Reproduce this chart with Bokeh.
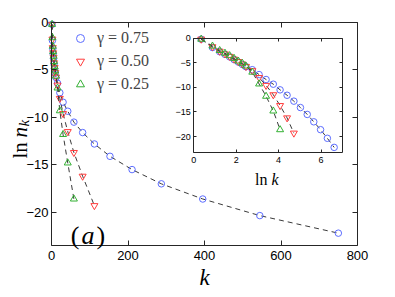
import numpy as np
from bokeh.plotting import figure
from bokeh.models import (Range1d, LinearAxis, FixedTicker, Label, Legend,
                          LegendItem)
from bokeh.embed import file_html
from bokeh.resources import INLINE

# ---------------- data ----------------
lnk_bins = [0.35, 0.88, 1.22, 1.47, 1.69, 1.90, 2.10, 2.29, 2.46, 2.76, 3.08,
            3.41, 3.75, 4.07, 4.40, 4.72, 5.03, 5.35, 5.66, 5.98, 6.30, 6.62]
lnn_075 = [-0.2, -1.9, -2.75, -3.3, -3.8, -4.35, -4.85, -5.35, -5.8, -6.4, -7.4,
           -8.4, -9.35, -10.5, -11.6, -12.8, -14.1, -15.5, -17.0, -18.6, -20.35, -22.2]
lnn_050 = [-0.2, -1.75, -2.65, -3.2, -3.7, -4.25, -4.75, -5.25, -5.75, -6.6, -8.0,
           -9.6, -11.5, -13.7, -16.2, -19.3]
lnn_025 = [-0.2, -1.6, -2.5, -3.05, -3.55, -4.1, -4.65, -5.1, -5.65, -6.9, -9.3,
           -11.8, -14.8, -18.6]
series_labels = ["γ = 0.75", "γ = 0.50", "γ = 0.25"]
series_values = [lnn_075, lnn_050, lnn_025]
colors = ["#5c6dff", "#ff3c3c", "#33b033"]
markers = ["circle", "inverted_triangle", "triangle"]

x_ticks = [0, 200, 400, 600, 800]
y_ticks = [-20, -15, -10, -5, 0]
inset_x_ticks = [0, 2, 4, 6]
inset_y_ticks = [-20, -15, -10, -5, 0]
XLIM = (0, 800)
YLIM = (-23.5, 0)
INSET_XLIM = (0, 7)
INSET_YLIM = (-23.3, 0)

# ---------------- layout (pixels) ----------------
W, H = 394, 296
ML, MR, MT, MB = 51, 357, 22, 245            # main axes box
IL, IR, IT, IB = 193.3, 341.7, 37.7, 152.3   # inset axes box

sxm = (XLIM[1] - XLIM[0]) / (MR - ML)
sym = (YLIM[1] - YLIM[0]) / (MB - MT)
sxi = (INSET_XLIM[1] - INSET_XLIM[0]) / (IR - IL)
syi = (INSET_YLIM[1] - INSET_YLIM[0]) / (IB - IT)

x_range = Range1d(XLIM[0] - ML * sxm, XLIM[1] + (W - MR) * sxm)
y_range = Range1d(YLIM[0] - (H - MB) * sym, YLIM[1] + MT * sym)
ix_range = Range1d(INSET_XLIM[0] - IL * sxi, INSET_XLIM[1] + (W - IR) * sxi)
iy_range = Range1d(INSET_YLIM[0] - (H - IB) * syi, INSET_YLIM[1] + IT * syi)


def mx(px):
    return XLIM[0] + (px - ML) * sxm


def my(py):
    return YLIM[1] - (py - MT) * sym


AX = "#262626"
MINUS = "\u2212"


def overrides(ticks):
    return {t: (MINUS + str(abs(t)) if t < 0 else str(t)) for t in ticks}


p = figure(width=W, height=H, x_range=x_range, y_range=y_range,
           x_axis_location=None, y_axis_location=None,
           output_backend="svg", toolbar_location=None, min_border=0)
p.extra_x_ranges = {"ix": ix_range}
p.extra_y_ranges = {"iy": iy_range}
p.grid.visible = False
p.outline_line_color = None
p.background_fill_color = "white"
p.border_fill_color = "white"


def make_axis(side, loc, bounds, ticks, size, labels=True, tick_len=5,
              standoff=4, inset=False):
    kw = dict(x_range_name="ix", y_range_name="iy") if inset else {}
    ax = LinearAxis(fixed_location=loc, bounds=bounds,
                    ticker=FixedTicker(ticks=ticks), **kw)
    ax.major_label_overrides = overrides(ticks)
    ax.major_tick_in = tick_len
    ax.major_tick_out = 0
    ax.minor_tick_line_color = None
    ax.axis_line_color = AX
    ax.axis_line_width = 1
    ax.major_tick_line_color = AX
    ax.major_label_text_font = "Liberation Sans"
    ax.major_label_text_font_size = size
    ax.major_label_text_color = "black" if labels else None
    ax.major_label_standoff = standoff
    p.add_layout(ax, side)
    return ax


# ---------------- main series ----------------
legend_items = []
for lab, vals, col, mk in zip(series_labels, series_values, colors, markers):
    n = len(vals)
    k = np.exp(np.array(lnk_bins[:n]))
    p.line(k, vals, line_color="#3a3a3a", line_width=1, line_dash="5 4")
    r = p.scatter(k, vals, marker=mk, size=7 if mk != "circle" else 6.5,
                  line_color=col, fill_color=None, line_width=1)
    legend_items.append(LegendItem(label=lab, renderers=[r]))

# main axes box
make_axis("below", YLIM[0], XLIM, x_ticks, "13px", standoff=5)
make_axis("left", XLIM[0], YLIM, y_ticks, "13px", standoff=3)
make_axis("above", YLIM[1], XLIM, x_ticks, "13px", labels=False)
make_axis("right", XLIM[1], YLIM, y_ticks, "13px", labels=False)

# ---------------- inset ----------------
p.quad(left=INSET_XLIM[0], right=INSET_XLIM[1], bottom=INSET_YLIM[0],
       top=INSET_YLIM[1], x_range_name="ix", y_range_name="iy",
       fill_color="white", line_color=None)
for vals, col, mk in zip(series_values, colors, markers):
    n = len(vals)
    lk = lnk_bins[:n]
    p.line(lk, vals, x_range_name="ix", y_range_name="iy",
           line_color="#3a3a3a", line_width=1, line_dash="5 4")
    p.scatter(lk, vals, x_range_name="ix", y_range_name="iy", marker=mk,
              size=7 if mk != "circle" else 6.5, line_color=col,
              fill_color=None, line_width=1)

make_axis("left", INSET_XLIM[0], INSET_YLIM, inset_y_ticks, "9px",
          tick_len=3, standoff=3, inset=True)
make_axis("below", INSET_YLIM[0], INSET_XLIM, inset_x_ticks, "9px",
          tick_len=3, standoff=4, inset=True)
make_axis("above", INSET_YLIM[1], INSET_XLIM, inset_x_ticks, "9px",
          labels=False, tick_len=3, inset=True)
make_axis("right", INSET_XLIM[1], INSET_YLIM, inset_y_ticks, "9px",
          labels=False, tick_len=3, inset=True)

# ---------------- legend ----------------
GLYPH_H, SPACING = 22, 1
leg_h = 3 * GLYPH_H + 2 * SPACING
leg_top = 38.3 - GLYPH_H / 2
legend = Legend(items=legend_items, location=(70, H - leg_top - leg_h),
                background_fill_alpha=0, border_line_color=None, padding=0,
                spacing=SPACING, margin=0, glyph_height=GLYPH_H, glyph_width=20,
                label_height=GLYPH_H, label_standoff=7,
                label_text_font="Liberation Serif", label_text_font_size="16px")
p.add_layout(legend)

# ---------------- text labels ----------------
SERIF = "Liberation Serif"


def lab(px, py, text, size, style="normal", align="left", angle=0.0,
        baseline="alphabetic"):
    p.add_layout(Label(x=mx(px), y=my(py), text=text, text_font=SERIF,
                       text_font_size=size, text_font_style=style,
                       text_align=align, text_baseline=baseline, angle=angle,
                       text_color="black"))


# y axis label: ln n_k (rotated)
lab(19, 158, "ln", "21px", angle=np.pi / 2)
lab(19, 137, "n", "21px", style="italic", angle=np.pi / 2)
lab(23, 126, "k", "15px", style="italic", angle=np.pi / 2)
# x axis label
lab(204, 277, "k", "23px", style="italic", align="center")
# (a)
lab(79, 235, "(", "26px", align="right")
lab(87.5, 235, "a", "26px", style="italic", align="center")
lab(96, 235, ")", "26px", align="left")
# inset x label
lab(267, 179, "ln", "16px", align="right")
lab(271, 179, "k", "16px", style="italic", align="left")

open("out.html", "w").write(file_html(p, INLINE))
